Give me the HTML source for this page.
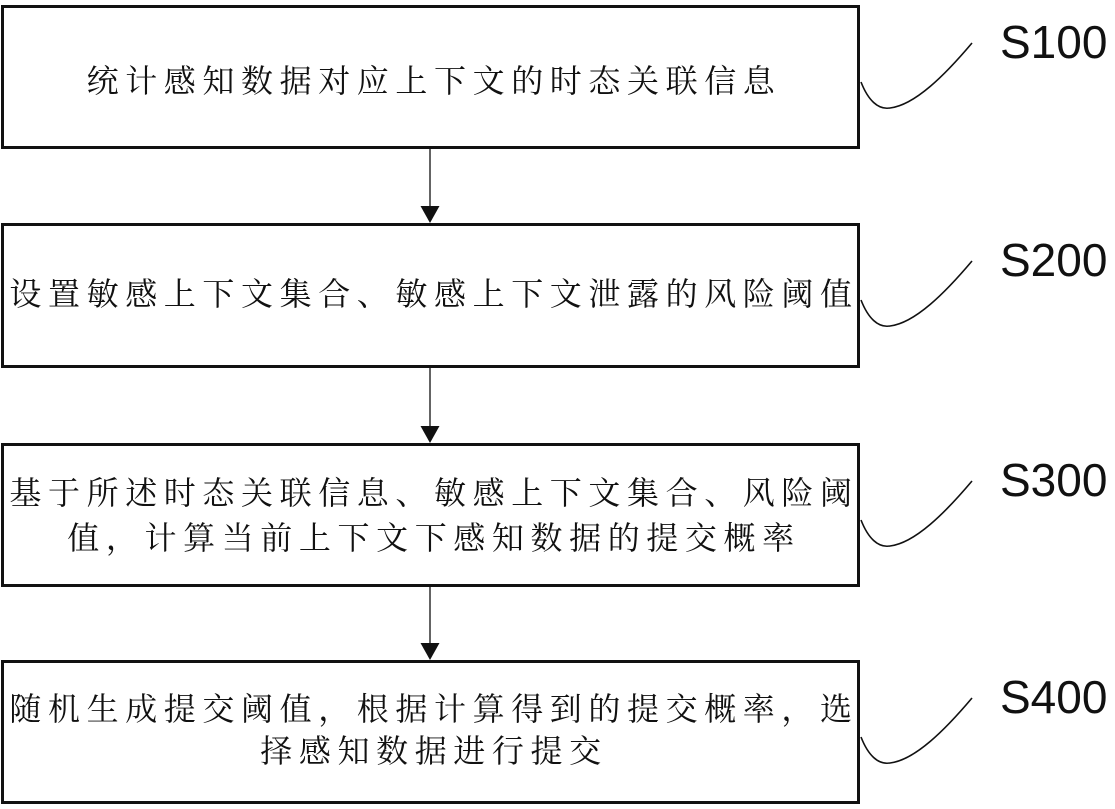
<!DOCTYPE html>
<html><head><meta charset="utf-8"><style>
html,body{margin:0;padding:0;background:#fff;}
svg{display:block;}
.t{font-family:"Noto Serif CJK SC","Liberation Serif","WenQuanYi Zen Hei",serif;font-size:32px;letter-spacing:6.6px;fill:#111;}
.s{font-family:"Liberation Sans",sans-serif;font-size:46px;fill:#111;}
</style></head><body>
<svg width="1115" height="809" viewBox="0 0 1115 809" xmlns="http://www.w3.org/2000/svg">
<g fill="none" stroke="#111" stroke-width="3">
<rect x="2.5" y="6.5" width="856" height="141"/>
<rect x="2.5" y="224.5" width="856" height="142"/>
<rect x="2.5" y="444.5" width="856" height="141"/>
<rect x="2.5" y="661.5" width="856" height="141"/>
</g>
<g stroke="#111" stroke-width="1.3">
<line x1="430" y1="148" x2="430" y2="208"/>
<line x1="430" y1="367" x2="430" y2="428"/>
<line x1="430" y1="586" x2="430" y2="645"/>
</g>
<g fill="#111">
<polygon points="420.5,206 439.5,206 430,223"/>
<polygon points="420.5,426 439.5,426 430,443"/>
<polygon points="420.5,643 439.5,643 430,660"/>
</g>
<g fill="none" stroke="#111" stroke-width="1.6">
<path d="M861,82 C868,100 878,110 890,108 C915,105 945,75 972,43"/>
<path d="M861,300 C868,318 878,328 890,326 C915,323 945,293 972,261"/>
<path d="M861,520 C868,538 878,548 890,546 C915,543 945,513 972,481"/>
<path d="M861,737 C868,755 878,765 890,763 C915,760 945,730 972,698"/>
</g>
<text class="s" x="1000" y="58">S100</text>
<text class="s" x="1000" y="276">S200</text>
<text class="s" x="1000" y="496">S300</text>
<text class="s" x="1000" y="713">S400</text>
<g class="t" text-anchor="middle">
<text x="434" y="92">统计感知数据对应上下文的时态关联信息</text>
<text x="434" y="305">设置敏感上下文集合、敏感上下文泄露的风险阈值</text>
<text x="434" y="504">基于所述时态关联信息、敏感上下文集合、风险阈</text>
<text x="434" y="549">值，计算当前上下文下感知数据的提交概率</text>
<text x="434" y="720">随机生成提交阈值，根据计算得到的提交概率，选</text>
<text x="434" y="762">择感知数据进行提交</text>
</g>
</svg>
</body></html>
